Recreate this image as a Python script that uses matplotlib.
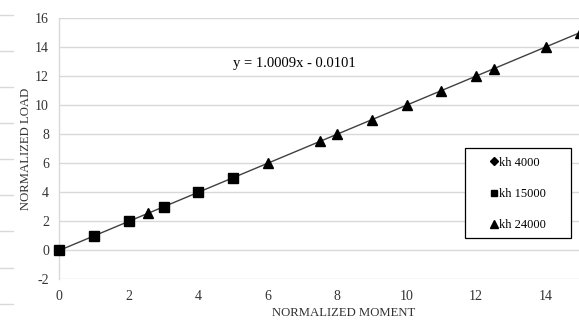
import numpy as np
import matplotlib
matplotlib.use("Agg")
import matplotlib.pyplot as plt
from matplotlib.lines import Line2D
from matplotlib.patches import Rectangle

plt.rcParams['font.family'] = ['Liberation Serif', 'DejaVu Serif']
plt.rcParams['axes.unicode_minus'] = False

# Normalized moment (x) vs normalized load (y) for three stiffness values
kh4000_x = [0.0]
kh4000_y = [0.0]
kh15000_x = [0, 1, 2, 3, 4, 5]
kh15000_y = [0, 1, 2, 3, 4, 5]
kh24000_x = [2.55, 6, 7.5, 8, 9, 10, 11, 12, 12.5, 14, 15]
kh24000_y = [2.55, 6, 7.5, 8, 9, 10, 11, 12, 12.5, 14, 15]

slope, intercept = 1.0009, -0.0101
equation = "y = 1.0009x - 0.0101"
x_ticks = [0, 2, 4, 6, 8, 10, 12, 14]
y_ticks = [-2, 0, 2, 4, 6, 8, 10, 12, 14, 16]

W, H = 579, 326
fig = plt.figure(figsize=(W / 100, H / 100), dpi=100)

ax_left, ax_right = 59.3, 580.4
ax_top, ax_bot = 18.0, 279.3
ax = fig.add_axes([ax_left / W, 1 - ax_bot / H,
                   (ax_right - ax_left) / W, (ax_bot - ax_top) / H])

grid_col = '#d9d9d9'
ax.set_xlim(0, 15)
ax.set_ylim(-2, 16)
ax.set_xticks(x_ticks)
ax.set_yticks(y_ticks)
ax.yaxis.grid(True, color=grid_col, linewidth=1.0)
ax.set_axisbelow(True)
for side in ['top', 'right', 'bottom']:
    ax.spines[side].set_visible(False)
ax.spines['left'].set_color(grid_col)
ax.spines['left'].set_linewidth(1.0)
ax.tick_params(axis='both', length=0, labelsize=10, colors='#404040', pad=7.5)
for lbl in ax.get_xticklabels() + ax.get_yticklabels():
    lbl.set_color('#333333')

# Linear trend line
tx = np.array([0.0, 15.0])
ax.plot(tx, slope * tx + intercept, color='#404040', linewidth=1.0, zorder=2)

ms = 6.5
ax.plot(kh4000_x, kh4000_y, linestyle='none', marker='D', markersize=ms * 0.8,
        color='black', label='kh 4000', zorder=3, clip_on=False)
ax.plot(kh15000_x, kh15000_y, linestyle='none', marker='s', markersize=ms,
        color='black', label='kh 15000', zorder=4, clip_on=False)
ax.plot(kh24000_x, kh24000_y, linestyle='none', marker='^', markersize=ms + 0.5,
        color='black', label='kh 24000', zorder=4, clip_on=False)

fig.text(294.5 / W, 1 - 63 / H, equation, fontsize=10.5, ha='center',
         va='center', color='black')

fig.text(344 / W, 1 - 313 / H, 'NORMALIZED MOMENT', fontsize=9.2, ha='center',
         va='center', color='#333333')
fig.text(26 / W, 1 - 148.5 / H, 'NORMALIZED LOAD', fontsize=9.2, ha='center',
         va='center', rotation=90, color='#333333')

# Legend with a plain rectangular frame
handles = [
    Line2D([], [], linestyle='none', marker='D', markersize=4.5, color='black'),
    Line2D([], [], linestyle='none', marker='s', markersize=5, color='black'),
    Line2D([], [], linestyle='none', marker='^', markersize=6, color='black'),
]
leg = fig.legend(handles, ['kh 4000', 'kh 15000', 'kh 24000'],
                 loc='center', bbox_to_anchor=(518 / W, 1 - 194 / H),
                 frameon=False, fontsize=9, labelspacing=1.55,
                 handlelength=0.6, handletextpad=0.15, borderpad=0)
fig.patches.append(Rectangle((465 / W, 1 - 238 / H), 106 / W, 90 / H,
                             transform=fig.transFigure, fill=True,
                             facecolor='white', edgecolor='black',
                             linewidth=0.9, zorder=1))
leg.set_zorder(5)

# Faint rules along the left margin
for yp in [15, 51, 87.3, 123.3, 159.3, 195.3, 231.3, 267.7, 304]:
    fig.add_artist(Line2D([0, 13 / W], [1 - yp / H, 1 - yp / H],
                          transform=fig.transFigure, color=grid_col,
                          linewidth=1.0))

fig.savefig('out.png', dpi=100)
